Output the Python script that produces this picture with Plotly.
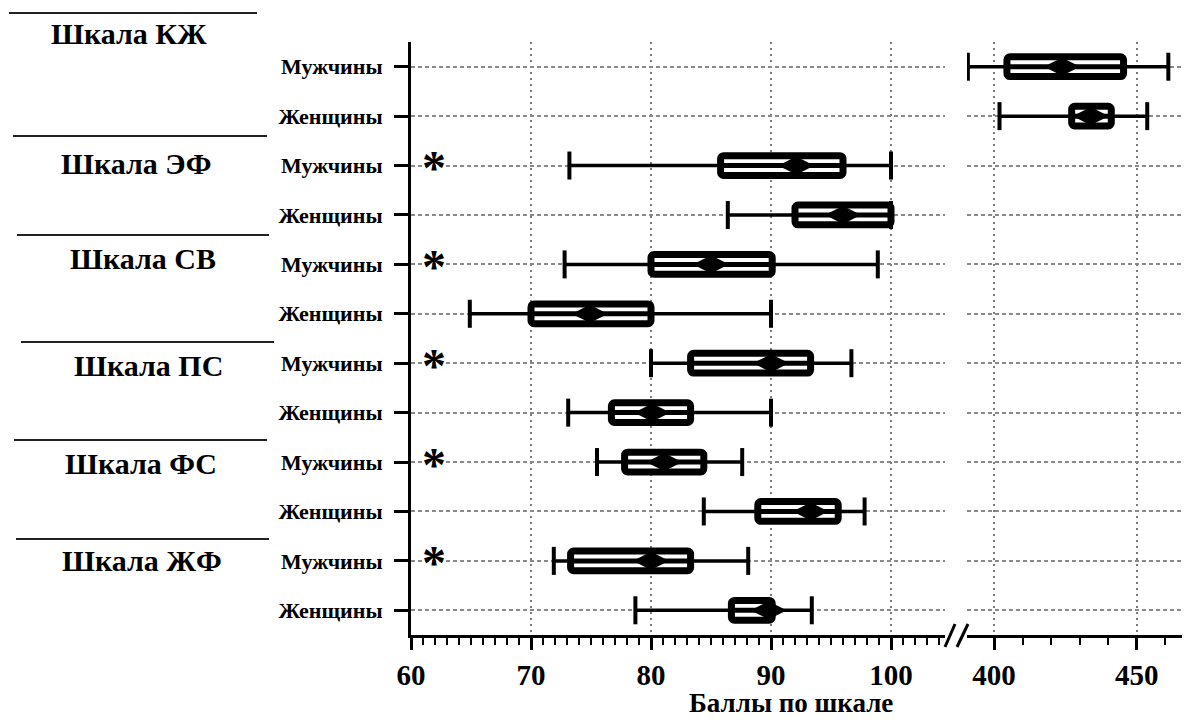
import plotly.graph_objects as go

# ---------------- data ----------------
groups = ["Шкала КЖ", "Шкала ЭФ", "Шкала СВ", "Шкала ПС", "Шкала ФС", "Шкала ЖФ"]
sexes = ["Мужчины", "Женщины"]

# one entry per row, top to bottom (group x sex)
whisker_low = [390.8, 401.9, 73.2, 86.4, 72.8, 64.9, 80.0, 73.1, 75.5, 84.4, 71.9, 78.7]
q1 = [404.5, 427.2, 85.8, 92.0, 80.0, 70.0, 83.3, 76.7, 77.8, 88.9, 73.3, 86.7]
mean = [423.8, 433.9, 92.1, 96.0, 85.0, 74.9, 90.0, 80.1, 81.1, 93.3, 80.0, 89.8]
q3 = [445.4, 441.1, 96.0, 100.0, 90.1, 80.0, 93.3, 83.3, 84.4, 95.6, 83.3, 90.1]
whisker_high = [461.1, 453.7, 100.0, 100.0, 98.9, 90.0, 96.7, 90.0, 87.6, 97.8, 88.1, 93.4]
significant = [False, False, True, False, True, False, True, False, True, False, True, False]

left_ticks = [60, 70, 80, 90, 100]
right_ticks = [400, 450]

# ---------------- layout helpers ----------------
OFF = 8  # page body margin of the browser
W, H = 1190 - OFF, 722 - OFF
ML, MR, MT, MB = 411 - OFF, 0, 42 - OFF, 722 - 635
PW, PH = W - ML - MR, H - MT - MB


def px_x(p):
    return (p - OFF - ML) / PW


def px_y(p):
    return (H - MB - (p - OFF)) / PH


SERIF = "Liberation Serif, Times New Roman, serif"
rows = list(range(len(q1)))
row_labels = [sexes[i % 2] for i in rows]
row_group = [i // 2 for i in rows]

fig = go.Figure()

for axis, sel in (("x2", [i for i in rows if row_group[i] == 0]),
                  ("x", [i for i in rows if row_group[i] != 0])):
    ys = [rows[i] for i in sel]
    # box
    fig.add_trace(go.Bar(
        y=ys, x=[q3[i] - q1[i] for i in sel], base=[q1[i] for i in sel],
        orientation="h", width=0.4, xaxis=axis, yaxis="y",
        marker=dict(color="white", line=dict(color="black", width=7), cornerradius=3),
        hoverinfo="skip"))
    # whisker line
    wx, wy = [], []
    for i in sel:
        wx += [whisker_low[i], whisker_high[i], None]
        wy += [rows[i], rows[i], None]
    fig.add_trace(go.Scatter(x=wx, y=wy, mode="lines", xaxis=axis, yaxis="y",
                             line=dict(color="black", width=3.5), hoverinfo="skip"))
    # center line inside box
    cx, cy = [], []
    for i in sel:
        cx += [q1[i], q3[i], None]
        cy += [rows[i], rows[i], None]
    fig.add_trace(go.Scatter(x=cx, y=cy, mode="lines", xaxis=axis, yaxis="y",
                             line=dict(color="black", width=5), hoverinfo="skip"))
    # whisker caps
    fig.add_trace(go.Scatter(
        x=[whisker_low[i] for i in sel] + [whisker_high[i] for i in sel],
        y=ys + ys, mode="markers", xaxis=axis, yaxis="y",
        marker=dict(symbol="line-ns", size=20, line=dict(color="black", width=4)),
        hoverinfo="skip"))
    # mean marker
    fig.add_trace(go.Scatter(
        x=[mean[i] for i in sel], y=ys, mode="markers", xaxis=axis, yaxis="y",
        marker=dict(symbol="diamond-wide", size=21, color="black",
                    line=dict(color="black", width=3)),
        hoverinfo="skip"))

# significance asterisks
for i in rows:
    if significant[i]:
        fig.add_annotation(x=61.9, y=rows[i], xref="x", yref="y", text="*",
                           showarrow=False, yshift=-2,
                           font=dict(family=SERIF, size=48, color="black", weight="bold"))

# group labels
label_pos = [(129, 33), (136, 163), (143, 258), (148, 365), (141, 463), (142, 560)]
for g, (lx, ly) in zip(groups, label_pos):
    fig.add_annotation(x=px_x(lx), y=px_y(ly), xref="paper", yref="paper",
                       text=g, showarrow=False, xanchor="center", yanchor="middle",
                       font=dict(family=SERIF, size=30, color="black", weight="bold"))

# separator lines between groups
sep_lines = [(9, 257, 13), (13, 267, 136), (17, 269, 235), (21, 274, 342),
             (14, 267, 440), (16, 269, 539)]
for x0, x1, yy in sep_lines:
    fig.add_shape(type="line", xref="paper", yref="paper",
                  x0=px_x(x0), x1=px_x(x1), y0=px_y(yy), y1=px_y(yy),
                  line=dict(color="#222222", width=2))

# axis break marks
for x0, x1 in ((945, 955), (957, 968)):
    fig.add_shape(type="line", xref="paper", yref="paper",
                  x0=px_x(x0), x1=px_x(x1), y0=px_y(647), y1=px_y(624),
                  line=dict(color="black", width=3))

# axis title
fig.add_annotation(x=px_x(791), y=px_y(703), xref="paper", yref="paper",
                   text="Баллы по шкале", showarrow=False,
                   xanchor="center", yanchor="middle",
                   font=dict(family=SERIF, size=27, color="black", weight="bold"))

grid_v = dict(showgrid=True, gridcolor="#7a7a7a", gridwidth=1.5, griddash="2px,4px")
tickfont = dict(family=SERIF, size=29, color="black", weight="bold")

fig.update_layout(
    width=W, height=H,
    margin=dict(l=ML, r=MR, t=MT, b=MB),
    paper_bgcolor="white", plot_bgcolor="white",
    showlegend=False, barmode="overlay",
    xaxis=dict(domain=[0, px_x(945)], range=[60, 104.5], anchor="y",
               tickmode="array", tickvals=left_ticks, ticks="outside",
               ticklen=12, tickwidth=3, tickcolor="black",
               showline=True, linecolor="black", linewidth=3,
               zeroline=False, tickfont=tickfont,
               minor=dict(dtick=1, ticks="outside", ticklen=7, tickwidth=2,
                          tickcolor="black", showgrid=False),
               **grid_v),
    xaxis2=dict(domain=[px_x(967), 1], range=[390.5, 468.7], anchor="y",
                tickmode="array", tickvals=right_ticks, ticks="outside",
                ticklen=12, tickwidth=3, tickcolor="black",
                showline=True, linecolor="black", linewidth=3,
                zeroline=False, tickfont=tickfont,
                minor=dict(tick0=400, dtick=10, ticks="outside", ticklen=7,
                           tickwidth=2, tickcolor="black", showgrid=False),
                **grid_v),
    yaxis=dict(domain=[0, 1], range=[11.5, -0.5], anchor="x",
               tickmode="array", tickvals=rows, ticktext=row_labels,
               ticks="outside", ticklen=14, tickwidth=3, tickcolor="black",
               showline=True, linecolor="black", linewidth=3, zeroline=False,
               showgrid=True, gridcolor="#8a8a8a", gridwidth=1.5,
               griddash="4px,3px", ticklabelstandoff=7,
               tickfont=dict(family=SERIF, size=22, color="black", weight="bold")),
)

fig.write_html("out.html")
